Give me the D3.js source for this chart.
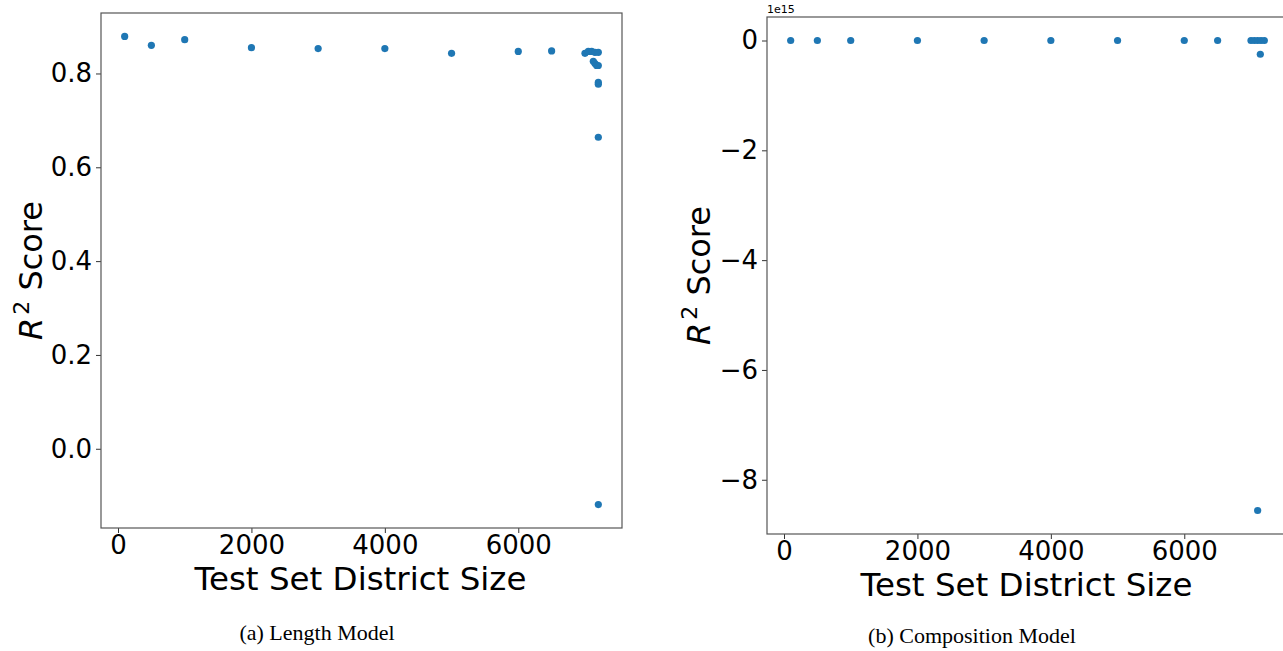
<!DOCTYPE html>
<html><head><meta charset="utf-8">
<script src="https://cdn.jsdelivr.net/npm/d3@7"></script>
<style>
body{margin:0;background:#fff}
svg{display:block}
</style>
</head><body>
<svg id="c" width="1283" height="651"></svg>
<script>
// ---- data ----
const lenSizes  = [100, 500, 1000, 2000, 3000, 4000, 5000, 6000, 6500,
                   7000, 7050, 7100, 7150, 7200, 7125, 7150, 7175, 7200,
                   7200, 7200, 7200, 7200];
const lenScores = [0.879, 0.860, 0.872, 0.855, 0.853, 0.853, 0.843, 0.847, 0.848,
                   0.843, 0.847, 0.847, 0.845, 0.845, 0.826, 0.821, 0.817, 0.817,
                   0.781, 0.777, 0.664, -0.119];
const compSizes  = [100, 500, 1000, 2000, 3000, 4000, 5000, 6000, 6500,
                    7000, 7050, 7100, 7150, 7200, 7140, 7100];
const compScores = [0, 0, 0, 0, 0, 0, 0, 0, 0,
                    0, 0, 0, 0, 0, -0.25e15, -8.56e15];
const xTickVals = [0, 2000, 4000, 6000];
const lenYTicks = [0.0, 0.2, 0.4, 0.6, 0.8];
const compYTicks = [0, -2e15, -4e15, -6e15, -8e15];
const xLabel = "Test Set District Size";
const captions = ["(a) Length Model", "(b) Composition Model"];

const SANS = '"DejaVu Sans", sans-serif';
const SERIF = '"Liberation Serif", "Times New Roman", serif';

const svg = d3.select("#c");
svg.append("rect").attr("width",1283).attr("height",651).attr("fill","#fff");

function padDomain(vals){
  const [a,b] = d3.extent(vals); const m = (b-a)*0.05; return [a-m, b+m];
}

function panel(cfg){
  const g = svg.append("g").style("font-family", SANS);
  const x = d3.scaleLinear().domain(padDomain(cfg.xs)).range([cfg.left, cfg.right]);
  const y = d3.scaleLinear().domain(padDomain(cfg.ys)).range([cfg.bottom, cfg.top]);

  const ax = g.append("g").attr("transform",`translate(0,${cfg.bottom})`)
    .call(d3.axisBottom(x).tickValues(xTickVals).tickSize(5).tickPadding(3).tickFormat(d3.format("d")));
  const ay = g.append("g").attr("transform",`translate(${cfg.left},0)`)
    .call(d3.axisLeft(y).tickValues(cfg.yTicks).tickSize(5).tickPadding(4).tickFormat(cfg.yFmt));
  [ax, ay].forEach(a=>{
    a.attr("font-family", null).attr("font-size", null);
    a.select(".domain").remove();
    a.selectAll(".tick line").attr("stroke","#333").attr("stroke-width",1);
    a.selectAll(".tick text").style("font-size","26px").style("font-family",SANS).attr("fill","#000");
  });

  g.append("rect").attr("x",cfg.left).attr("y",cfg.top)
    .attr("width",cfg.right-cfg.left).attr("height",cfg.bottom-cfg.top)
    .attr("fill","none").attr("stroke","#555").attr("stroke-width",1.2);

  g.append("g").selectAll("circle").data(cfg.xs.map((v,i)=>[v,cfg.ys[i]])).join("circle")
    .attr("cx",d=>x(d[0])).attr("cy",d=>y(d[1])).attr("r",3.6).attr("fill","#1f77b4");

  g.append("text").attr("x",(cfg.left+cfg.right)/2 - 1).attr("y",cfg.xLabelY)
    .attr("text-anchor","middle").style("font-size","32.5px").text(xLabel);

  const yl = g.append("text")
    .attr("transform",`translate(${cfg.yLabelX},${(cfg.top+cfg.bottom)/2}) rotate(-90)`)
    .attr("text-anchor","middle").style("font-size","32px");
  yl.append("tspan").attr("font-style","italic").text("R");
  yl.append("tspan").style("font-size","22px").attr("dy",-13).attr("dx",3).text("2");
  yl.append("tspan").attr("dy",13).text(" Score");

  if (cfg.offset) g.append("text").attr("x",cfg.left).attr("y",cfg.top-4)
    .style("font-size","11px").text(cfg.offset);

  g.append("text").attr("x",cfg.capX).attr("y",cfg.capY).attr("text-anchor","middle")
    .style("font-family",SERIF).style("font-size","22px")
    .text(cfg.caption);
}

const minus = s => s.replace("-", "\u2212");
panel({xs:lenSizes, ys:lenScores, left:101, right:622, top:13, bottom:528,
  yTicks:lenYTicks, yFmt:d=>minus(d3.format(".1f")(d)), xLabelY:590, yLabelX:42,
  caption:captions[0], capX:317, capY:640});
panel({xs:compSizes, ys:compScores, left:767, right:1288, top:17, bottom:534,
  yTicks:compYTicks, yFmt:d=>minus(String(Math.round(d/1e15))), xLabelY:596, yLabelX:710,
  offset:"1e15", caption:captions[1], capX:972, capY:643});
</script>
</body></html>
